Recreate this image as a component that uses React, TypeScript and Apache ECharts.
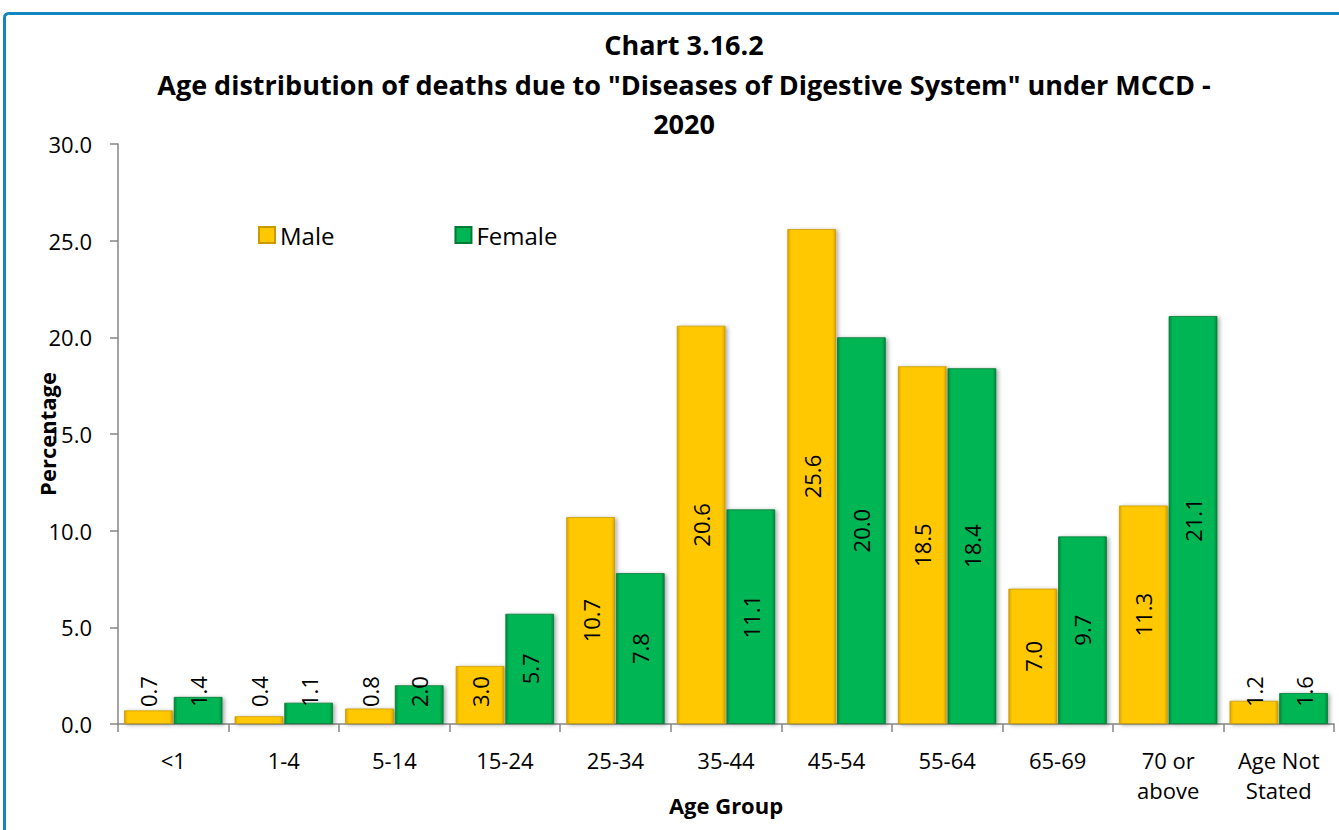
import React, { useEffect, useRef } from "react";
import * as echarts from "echarts";

const categories = ["<1", "1-4", "5-14", "15-24", "25-34", "35-44", "45-54", "55-64", "65-69", "70 or\nabove", "Age Not\nStated"];
const maleValues = [0.7, 0.4, 0.8, 3.0, 10.7, 20.6, 25.6, 18.5, 7.0, 11.3, 1.2];
const femaleValues = [1.4, 1.1, 2.0, 5.7, 7.8, 11.1, 20.0, 18.4, 9.7, 21.1, 1.6];
const yTicks = { min: 0, max: 30, interval: 5 };

const FONT = "'Open Sans', 'Noto Sans', sans-serif";

function barGradient(edge: string, mid: string) {
  return new echarts.graphic.LinearGradient(0, 0, 1, 0, [
    { offset: 0, color: edge },
    { offset: 0.07, color: mid },
    { offset: 0.93, color: mid },
    { offset: 1, color: edge },
  ]);
}

export default function App() {
  const ref = useRef<HTMLDivElement>(null);
  useEffect(() => {
    if (!ref.current) return;
    const chart = echarts.init(ref.current, null, { renderer: "svg" });

    const centerLabel = {
      show: true,
      position: "inside",
      rotate: 90,
      align: "center",
      verticalAlign: "middle",
    };
    const baseLabel = {
      show: true,
      position: "insideBottom",
      distance: 17,
      rotate: 90,
      align: "left",
      verticalAlign: "middle",
    };
    const toData = (vals: number[]) =>
      vals.map((v) => ({ value: v, label: v >= 4 ? centerLabel : baseLabel }));

    const labelCommon = {
      show: true,
      color: "#000",
      fontSize: 22,
      fontFamily: FONT,
      formatter: (p: any) => Number(p.value).toFixed(1),
    };

    const barShadow = {
      shadowColor: "rgba(0,0,0,0.35)",
      shadowBlur: 4,
      shadowOffsetX: 2,
      shadowOffsetY: 1,
    };

    chart.setOption({
      animation: false,
      backgroundColor: "#fff",
      graphic: [
        {
          type: "rect",
          shape: { x: 4.5, y: 13.5, width: 1400, height: 900, r: 4 },
          style: { fill: "none", stroke: "#1286BE", lineWidth: 3 },
          z: 100,
        },
        {
          type: "text",
          x: 684,
          y: 25,
          style: {
            text: 'Chart 3.16.2\nAge distribution of deaths due to "Diseases of Digestive System" under MCCD -\n2020',
            align: "center",
            verticalAlign: "top",
            fill: "#000",
            font: `bold 27px ${FONT}`,
            lineHeight: 39.5,
          },
        },
      ],
      legend: {
        left: 253,
        top: 218,
        itemWidth: 16,
        itemHeight: 16,
        itemGap: 120,
        icon: "rect",
        textStyle: { fontSize: 24, fontFamily: FONT, color: "#000" },
        data: ["Male", "Female"],
      },
      grid: { left: 118, right: 5, top: 144, bottom: 106, outerBoundsMode: "none", containLabel: false },
      xAxis: {
        type: "category",
        data: categories,
        name: "Age Group",
        nameLocation: "middle",
        nameGap: 70,
        nameMoveOverlap: false,
        nameTextStyle: { fontSize: 22, fontWeight: "bold", fontFamily: FONT, color: "#000" },
        axisLine: { lineStyle: { color: "#868686", width: 1.5 } },
        axisTick: { show: true, length: 8, lineStyle: { color: "#868686", width: 1.5 } },
        axisLabel: {
          fontSize: 22,
          fontFamily: FONT,
          color: "#000",
          margin: 21,
          lineHeight: 30,
          interval: 0,
        },
      },
      yAxis: {
        type: "value",
        min: yTicks.min,
        max: yTicks.max,
        interval: yTicks.interval,
        name: "Percentage",
        nameLocation: "middle",
        nameGap: 60,
        nameRotate: 90,
        nameMoveOverlap: false,
        nameTextStyle: { fontSize: 22, fontWeight: "bold", fontFamily: FONT, color: "#000" },
        splitLine: { show: false },
        axisLine: { show: true, lineStyle: { color: "#868686", width: 1.5 } },
        axisTick: { show: true, length: 8, lineStyle: { color: "#868686", width: 1.5 } },
        axisLabel: {
          fontSize: 22,
          fontFamily: FONT,
          color: "#000",
          margin: 26,
          formatter: (v: number) => v.toFixed(1),
        },
      },
      series: [
        {
          name: "Male",
          type: "bar",
          data: toData(maleValues),
          barGap: "2%",
          barCategoryGap: "11%",
          itemStyle: {
            color: barGradient("#D9A400", "#FFC800"),
            borderColor: "#C89A00",
            borderWidth: 0.8,
            ...barShadow,
          },
          label: labelCommon,
        },
        {
          name: "Female",
          type: "bar",
          data: toData(femaleValues),
          barGap: "2%",
          barCategoryGap: "11%",
          itemStyle: {
            color: barGradient("#00873D", "#00B553"),
            borderColor: "#007A35",
            borderWidth: 0.8,
            ...barShadow,
          },
          label: labelCommon,
        },
      ],
    });
    return () => chart.dispose();
  }, []);

  return (
    <div
      ref={ref}
      style={{ position: "absolute", left: 0, top: 0, width: 1339, height: 830 }}
    />
  );
}
